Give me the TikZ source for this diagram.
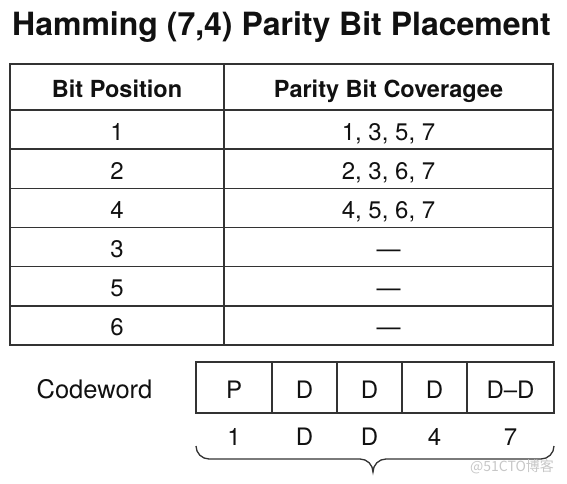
\documentclass[tikz,border=0pt]{standalone}
\usepackage{fontspec}
\setmainfont{TeX Gyre Heros}
\newfontfamily\cjkfont{Noto Sans CJK SC}
\definecolor{linec}{HTML}{333333}
\definecolor{txtc}{HTML}{111111}
\begin{document}
\begin{tikzpicture}[x=1pt,y=-1pt,
  cell/.style={draw=linec, line width=1.4pt, inner sep=0pt, outer sep=0pt, text=txtc,
    font=\fontsize{24}{28}\selectfont, text height=21pt, text depth=0pt},
  hcell/.style={cell, font=\bfseries\fontsize{23.5}{28}\selectfont, minimum height=46pt},
  rcell/.style={cell, minimum height=39.17pt},
  cw/.style={cell, minimum height=51pt},
  lab/.style={text=txtc, inner sep=0pt, anchor=base, font=\fontsize{24}{28}\selectfont},
  bracec/.style={draw=linec, line width=1.3pt}
]
\useasboundingbox (0,0) rectangle (567,484);
\node[anchor=base, inner sep=0pt, text=txtc, font=\bfseries\fontsize{32}{38}\selectfont] (title) at (281.5,36) {Hamming (7,4) Parity Bit Placement};

% table
\node[hcell, minimum width=214pt] (h1) at (117,87) {Bit Position};
\node[hcell, minimum width=329pt] (h2) at (388.5,87) {Parity Bit Coveragee};
\node[rcell, minimum width=214pt] (r1a) at (117,129.6) {1};
\node[rcell, minimum width=329pt] (r1b) at (388.5,129.6) {1, 3, 5, 7};
\node[rcell, minimum width=214pt] (r2a) at (117,168.8) {2};
\node[rcell, minimum width=329pt] (r2b) at (388.5,168.8) {2, 3, 6, 7};
\node[rcell, minimum width=214pt] (r3a) at (117,207.9) {4};
\node[rcell, minimum width=329pt] (r3b) at (388.5,207.9) {4, 5, 6, 7};
\node[rcell, minimum width=214pt] (r4a) at (117,247.1) {3};
\node[rcell, minimum width=329pt] (r4b) at (388.5,247.1) {—};
\node[rcell, minimum width=214pt] (r5a) at (117,286.3) {5};
\node[rcell, minimum width=329pt] (r5b) at (388.5,286.3) {—};
\node[rcell, minimum width=214pt] (r6a) at (117,325.4) {6};
\node[rcell, minimum width=329pt] (r6b) at (388.5,325.4) {—};

% codeword
\node[text=txtc, inner sep=0pt, font=\fontsize{25.5}{30}\selectfont, text height=21pt, text depth=0pt] (cwl) at (94.5,387.5) {Codeword};
\node[cw, minimum width=76pt] (c1) at (234,387.5) {P};
\node[cw, minimum width=65pt] (c2) at (304.5,387.5) {D};
\node[cw, minimum width=65pt] (c3) at (369.5,387.5) {D};
\node[cw, minimum width=65pt] (c4) at (434.5,387.5) {D};
\node[cw, minimum width=87pt] (c5) at (510.5,387.5) {D–D};

\node[lab] (n1) at (234,445) {1};
\node[lab] (n2) at (304.5,445) {D};
\node[lab] (n3) at (369.5,445) {D};
\node[lab] (n4) at (434.5,445) {4};
\node[lab] (n5) at (510.5,445) {7};

% brace
\coordinate (bl) at (196,446);
\coordinate (bt) at (373,472);
\coordinate (br) at (554,446);
\draw[bracec] (bl) to[out=-90,in=180] (209,459) -- (360,459) to[out=0,in=90] (bt)
  to[out=90,in=180] (386,459) -- (541,459) to[out=0,in=-90] (br);

\node[text=black!22, inner sep=0pt, font=\cjkfont\fontsize{14}{16}\selectfont] (wm) at (512,467) {@51CTO博客};
\end{tikzpicture}
\end{document}
